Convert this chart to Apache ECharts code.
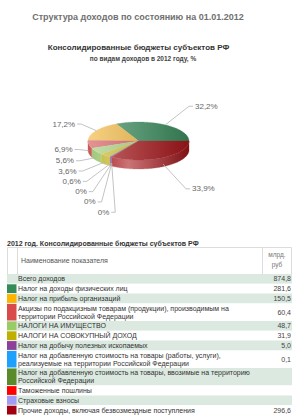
<!DOCTYPE html>
<html><head><meta charset="utf-8">
<script src="https://cdn.jsdelivr.net/npm/echarts@6/dist/echarts.min.js"></script>
<style>html,body{margin:0;padding:0;background:#fff}#c{width:297px;height:417px}</style>
</head><body><div id="c"></div>
<script>
// ---------- data ----------
const pageTitle = 'Структура доходов по состоянию на 01.01.2012';
const chartTitle = 'Консолидированные бюджеты субъектов РФ';
const chartSubtitle = 'по видам доходов в 2012 году, %';
const tableTitle = '2012 год. Консолидированные бюджеты субъектов РФ';
const headerName = 'Наименование показателя';
const headerUnit = 'млрд.\nруб';

const rowNames = [
  'Всего доходов',
  'Налог на доходы физических лиц',
  'Налог на прибыль организаций',
  'Акцизы по подакцизным товарам (продукции), производимым на территории Российской Федерации',
  'НАЛОГИ НА ИМУЩЕСТВО',
  'НАЛОГИ НА СОВОКУПНЫЙ ДОХОД',
  'Налог на добычу полезных ископаемых',
  'Налог на добавленную стоимость на товары (работы, услуги), реализуемые на территории Российской Федерации',
  'Налог на добавленную стоимость на товары, ввозимые на территорию Российской Федерации',
  'Таможенные пошлины',
  'Страховые взносы',
  'Прочие доходы, включая безвозмездные поступления'
];
const rowValues = [874.8, 281.6, 150.5, 60.4, 48.7, 31.9, 5.0, 0.1, null, null, null, 296.6];
const rowColors = [null, '#358a57', '#ffb400', '#d94a4a', '#99cc66', '#bfb000', '#8e3f9a', '#1ea0ff', '#5a8a2a', '#ff0000', '#a09cf5', '#a00012'];

// pie slices (same order as table rows 1..11)
const pieValues = [281.6, 150.5, 60.4, 48.7, 31.9, 5.0, 0.1, 0, 0, null, 296.6];
const pieColors = ['#3a8d5e', '#f3b840', '#d65a5a', '#a6d07a', '#cbbd34', '#8e3f9a', '#1ea0ff', '#5a8a2a', '#ff0000', '#a09cf5', '#a8161a'];

// ---------- helpers ----------
function hex(c){c=c.replace('#','');return [0,2,4].map(k=>parseInt(c.substr(k,2),16));}
function mix(c,t,f){const a=hex(c),b=hex(t);return 'rgb('+a.map((v,k)=>Math.round(v+(b[k]-v)*f)).join(',')+')';}
function fmt(v){return v==null?'':v.toFixed(1).replace('.',',');}

const PIE = {cx:138.5, cy:141, rx:50.5, ry:19, depth:9};
const total = pieValues.reduce((s,v)=>s+(v||0),0);
let acc = 0;
const slices = pieValues.map((v,i)=>{const a0=acc/total*Math.PI*2; acc+=(v||0); const a1=acc/total*Math.PI*2; return {i,v,a0,a1,mid:(a0+a1)/2};});
function pt(a,dy){return [PIE.cx+PIE.rx*Math.cos(a), PIE.cy-PIE.ry*Math.sin(a)+(dy||0)];}
function arc(s,e,dy){const n=Math.max(2,Math.ceil((e-s)/0.02));const p=[];for(let k=0;k<=n;k++)p.push(pt(s+(e-s)*k/n,dy));return p;}
function pctText(v){const p=(v/total*100).toFixed(1);return p==='0.0'?'0%':p.replace('.',',')+'%';}

// label layout
const LBL = {ox:138.5, oy:145, rx:66, ry:75, gap:10.3};
const labelInfo = slices.map(s=>{
  if (s.v==null) return null;
  const sn=Math.sin(s.mid), cs=Math.cos(s.mid);
  const left = cs<0, front = sn<0;
  const anchor = pt(s.mid, front?PIE.depth*0.7:0);
  const y = PIE.cy-(left?31:41)*sn+(front?(left?3:12):0);
  return {i:s.i,left,anchor,y,text:pctText(s.v)};
});
const lefts = labelInfo.filter(l=>l&&l.left).sort((a,b)=>(a.y-b.y)||(a.i-b.i));
for (let k=1;k<lefts.length;k++) lefts[k].y=Math.max(lefts[k].y, lefts[k-1].y+LBL.gap);
labelInfo.forEach(l=>{if(!l)return;const t=(l.y-LBL.oy)/LBL.ry;const w=LBL.rx*Math.sqrt(Math.max(0,1-t*t));l.x=l.left?LBL.ox-w:LBL.ox+w;});

function topFill(c){return new echarts.graphic.LinearGradient(PIE.cx-PIE.rx,0,PIE.cx+PIE.rx,0,[{offset:0,color:mix(c,'#ffffff',0.35)},{offset:1,color:mix(c,'#000000',0.18)}],true);}
function sideFill(c){return new echarts.graphic.LinearGradient(PIE.cx-PIE.rx,0,PIE.cx+PIE.rx,0,[{offset:0,color:mix(c,'#000000',0.05)},{offset:0.4,color:mix(c,'#ffffff',0.4)},{offset:1,color:mix(c,'#000000',0.25)}],true);}

function renderSlice(params){
  const s = slices[params.dataIndex], l = labelInfo[params.dataIndex];
  const children = [];
  if (s.v==null) return {type:'group',children};
  const c = pieColors[s.i];
  const lo=Math.max(s.a0,Math.PI), hi=Math.min(s.a1,2*Math.PI);
  if (hi>lo) children.push({type:'polygon',z2:1,shape:{points:arc(lo,hi,0).concat(arc(lo,hi,PIE.depth).reverse())},style:{fill:sideFill(c),stroke:sideFill(c),lineWidth:0.3}});
  if (s.a1>s.a0) children.push({type:'polygon',z2:2,shape:{points:[[PIE.cx,PIE.cy]].concat(arc(s.a0,s.a1,0))},style:{fill:topFill(c),stroke:topFill(c),lineWidth:0.3}});
  if (l){
    const dir = l.left?1:-1;
    children.push({type:'polyline',z2:3,shape:{points:[l.anchor,[l.x+dir*6,l.y],[l.x+dir*2,l.y]]},style:{stroke:'#b4b4b4',lineWidth:0.8,fill:null}});
    children.push({type:'text',z2:4,style:{text:l.text,x:l.x,y:l.y,align:l.left?'right':'left',verticalAlign:'middle',fontSize:8,fontFamily:'Liberation Sans',fill:'#666'}});
  }
  return {type:'group',children};
}

// ---------- table ----------
const TB = {x0:7, xSw:17, xText:18, xVal:262, x1:292, yTitle:243, yHead:247, headH:27, rowH:9.8, lineH:7.8, fontSize:7, nameW:236};
const mctx = document.createElement('canvas').getContext('2d');
mctx.font = TB.fontSize+'px "Liberation Sans"';
function wrap(t){const words=t.split(' ');const lines=[];let cur='';words.forEach(w=>{const tr=cur?cur+' '+w:w;if(mctx.measureText(tr).width>TB.nameW&&cur){lines.push(cur);cur=w;}else cur=tr;});lines.push(cur);return lines;}

const els = [];
els.push({type:'text',style:{text:pageTitle,x:138,y:17,align:'center',verticalAlign:'middle',fontSize:9,fontWeight:'bold',fontFamily:'Liberation Sans',fill:'#707070'}});
els.push({type:'text',style:{text:chartTitle,x:138.5,y:47,align:'center',verticalAlign:'middle',fontSize:8,fontWeight:'bold',fontFamily:'Liberation Sans',fill:'#333'}});
els.push({type:'text',style:{text:chartSubtitle,x:143,y:58,align:'center',verticalAlign:'middle',fontSize:6.5,fontWeight:'bold',fontFamily:'Liberation Sans',fill:'#444'}});
els.push({type:'text',style:{text:tableTitle,x:TB.x0,y:TB.yTitle,align:'left',verticalAlign:'middle',fontSize:7,fontWeight:'bold',fontFamily:'Liberation Sans',fill:'#333'}});
// header
els.push({type:'rect',shape:{x:TB.x0+0.5,y:TB.yHead+0.5,width:TB.x1-TB.x0-1,height:TB.headH},style:{fill:'#fff',stroke:'#dcdcdc',lineWidth:1}});
els.push({type:'line',shape:{x1:TB.xSw+0.5,y1:TB.yHead,x2:TB.xSw+0.5,y2:TB.yHead+TB.headH},style:{stroke:'#dcdcdc',lineWidth:1}});
els.push({type:'line',shape:{x1:TB.xVal+0.5,y1:TB.yHead,x2:TB.xVal+0.5,y2:TB.yHead+TB.headH},style:{stroke:'#dcdcdc',lineWidth:1}});
els.push({type:'text',style:{text:headerName,x:21,y:TB.yHead+TB.headH/2,align:'left',verticalAlign:'middle',fontSize:7,fontFamily:'Liberation Sans',fill:'#555'}});
els.push({type:'text',style:{text:headerUnit,x:(TB.xVal+TB.x1)/2,y:TB.yHead+TB.headH/2-1,align:'center',verticalAlign:'middle',fontSize:6.5,lineHeight:10,fontFamily:'Liberation Sans',fill:'#777'}});
// rows
let y = TB.yHead+TB.headH;
rowNames.forEach((name,r)=>{
  const lines = wrap(name);
  const h = TB.rowH+(lines.length-1)*TB.lineH;
  els.push({type:'rect',shape:{x:TB.x0,y:y,width:TB.x1-TB.x0,height:h},style:{fill:r%2===0?'#dbe9e1':'#ffffff'}});
  if (rowColors[r]) els.push({type:'rect',shape:{x:TB.x0,y:y+0.5,width:TB.xSw-TB.x0-0.5,height:h-1},style:{fill:rowColors[r]}});
  els.push({type:'text',style:{text:lines.join('\n'),x:TB.xText,y:y+h/2,align:'left',verticalAlign:'middle',fontSize:TB.fontSize,lineHeight:TB.lineH,fontFamily:'Liberation Sans',fill:'#333'}});
  els.push({type:'text',style:{text:fmt(rowValues[r]),x:TB.x1-1,y:y+h/2,align:'right',verticalAlign:'middle',fontSize:TB.fontSize,fontFamily:'Liberation Sans',fill:'#444'}});
  y += h;
});

const chart = echarts.init(document.getElementById('c'), null, {renderer:'svg'});
chart.setOption({
  animation:false,
  backgroundColor:'#fff',
  graphic:{elements:els},
  series:[{
    type:'custom',
    coordinateSystem:'none',
    data:pieValues.map((v,i)=>[i]),
    renderItem:renderSlice,
    silent:true
  }]
});
</script></body></html>
